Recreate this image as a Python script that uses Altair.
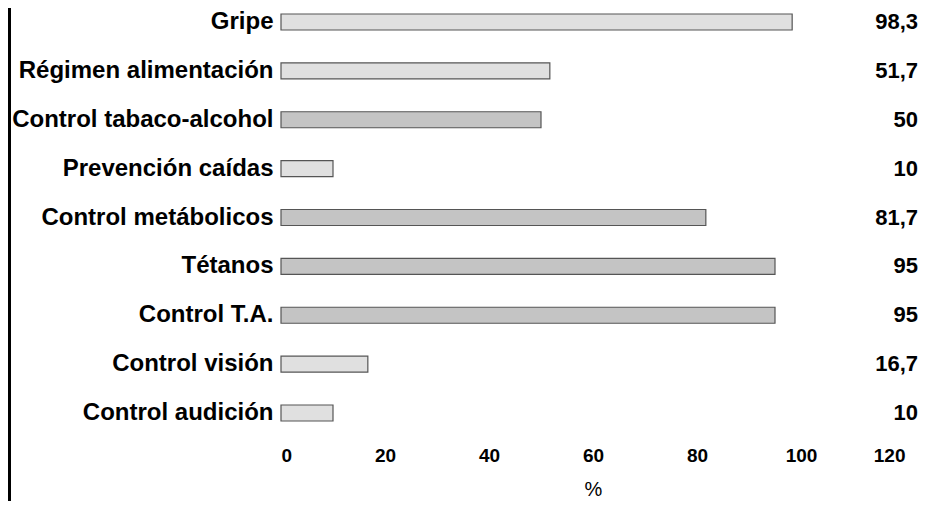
import altair as alt
import pandas as pd

categories = ["Gripe", "Régimen alimentación", "Control tabaco-alcohol", "Prevención caídas",
              "Control metábolicos", "Tétanos", "Control T.A.", "Control visión", "Control audición"]
values = [98.3, 51.7, 50, 10, 81.7, 95, 95, 16.7, 10]
value_labels = ["98,3", "51,7", "50", "10", "81,7", "95", "95", "16,7", "10"]
x_ticks = [0, 20, 40, 60, 80, 100, 120]
darker = ["Control tabaco-alcohol", "Control metábolicos", "Tétanos", "Control T.A."]

df = pd.DataFrame({"cat": categories, "val": values, "lab": value_labels})

W, H = 624, 415

y_enc = alt.Y("cat:N", sort=categories, title=None,
              scale=alt.Scale(paddingInner=0.673, paddingOuter=0.082),
              axis=alt.Axis(labelFont="Liberation Sans", labelFontWeight="bold", labelFontSize=24,
                            labelColor="black", ticks=False, domain=False, labelPadding=8,
                            labelLimit=400))

bars = alt.Chart(df).mark_bar(stroke="#555555", strokeWidth=1.2).encode(
    x=alt.X("val:Q", scale=alt.Scale(domain=[0, 120], nice=False), title="%",
            axis=alt.Axis(values=x_ticks, grid=False, ticks=False, domain=False,
                          labelFont="Liberation Sans", labelFontWeight="bold",
                          labelFontSize=19, labelColor="black", labelPadding=21,
                          titleFont="Liberation Sans", titleFontSize=20, titleFontWeight="normal",
                          titleColor="black", titlePadding=14)),
    y=y_enc,
    color=alt.condition(alt.FieldOneOfPredicate(field="cat", oneOf=darker),
                        alt.value("#c4c4c4"), alt.value("#e0e0e0")),
)

labels = alt.Chart(df).mark_text(align="right", baseline="middle", font="Liberation Sans",
                                 fontWeight="bold", fontSize=22, color="black").encode(
    x=alt.value(637),
    y=alt.Y("cat:N", sort=categories),
    text="lab:N",
)

border = alt.Chart(df).mark_rule(color="black", strokeWidth=2.5).encode(
    x=alt.value(-271.5), y=alt.value(-2), y2=alt.value(491)
)

chart = alt.layer(bars, labels, border).properties(
    width=W, height=H,
    autosize=alt.AutoSizeParams(type="none"),
    padding={"left": 273, "top": 2, "right": 36, "bottom": 76},
).configure_view(stroke=None)

chart.save("out.html", embed_options={"renderer": "svg", "actions": False})
